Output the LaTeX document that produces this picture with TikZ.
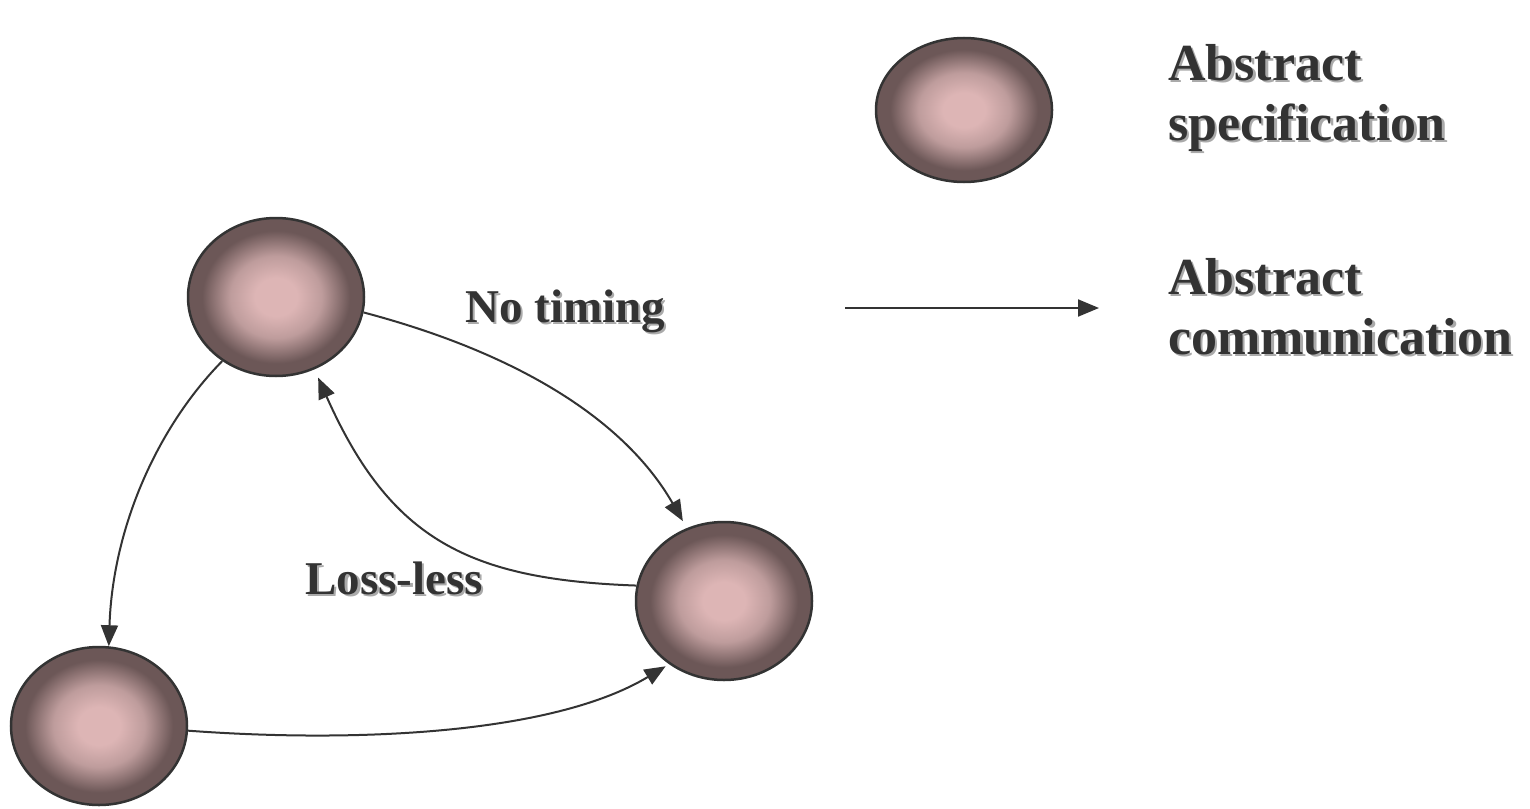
\documentclass[tikz,border=0pt]{standalone}
\usepackage{fontspec}
\setmainfont{Liberation Serif}
\usetikzlibrary{arrows.meta,shapes.geometric}

\definecolor{inkc}{HTML}{333333}
\definecolor{shadowc}{HTML}{AAAAAA}
\definecolor{glowc}{HTML}{DDB5B5}
\definecolor{midc}{HTML}{BE9C9C}
\definecolor{rimc}{HTML}{6C5757}

% soft pink centre fading into a dark rim
\pgfdeclareradialshading{stateglow}{\pgfpoint{0bp}{0bp}}{%
  color(0bp)=(glowc); color(6bp)=(glowc); color(13bp)=(midc);
  color(21bp)=(rimc); color(25bp)=(rimc); color(50bp)=(rimc)}

% bold text with a light drop shadow
\newcommand\shtext[1]{\leavevmode\rlap{\kern2.5pt\raisebox{-2.5pt}{\textcolor{shadowc}{#1}}}#1}

\tikzset{
  state/.style={ellipse, draw=inkc, line width=2.5pt, shading=stateglow,
    minimum width=176pt, minimum height=158pt, inner sep=0pt},
  tagtext/.style={anchor=base west, inner sep=0pt, text=inkc,
    font=\fontsize{47}{56}\selectfont\bfseries},
  keytext/.style={anchor=base west, inner sep=0pt, text=inkc,
    font=\fontsize{52}{62}\selectfont\bfseries},
  flow/.style={draw=inkc, line width=2pt, -{Triangle[length=21pt,width=17pt]}},
}

\begin{document}
\begin{tikzpicture}[x=1pt, y=-1pt]
\useasboundingbox (0,0) rectangle (1530,808);

% states
\node[state] (A) at (276,297) {};
\node[state] (C) at (724,601) {};
\node[state] (B) at (99,726) {};

% legend
\node[state, minimum height=144pt] (K) at (964,110) {};
\node[keytext] (k1) at (1168,80) {\shtext{Abstract}};
\node[keytext] (k2) at (1168,140) {\shtext{specification}};
\coordinate (ls) at (845,308);
\coordinate (le) at (1099,308);
\draw[flow] (ls) -- (le);
\node[keytext] (k3) at (1168,294) {\shtext{Abstract}};
\node[keytext] (k4) at (1168,354) {\shtext{communication}};

% transitions
\draw[flow, shorten >=8pt] (A.-10) .. controls +(155,41) and +(-62,-108) .. (C.117);
\draw[flow, shorten >=9pt] (C.170) .. controls +(-167,-6) and +(76,171) .. (A.-62);
\draw[flow] (A.230) .. controls +(-64,65) and +(4,-120) .. (B.83);
\draw[flow, shorten >=4pt] (B.-3) .. controls +(162,12) and +(-118,71) .. (C.229);

% transition labels
\node[tagtext] (nt) at (465,322) {\shtext{No timing}};
\node[tagtext] (ll) at (305,594) {\shtext{Loss-less}};
\end{tikzpicture}
\end{document}
